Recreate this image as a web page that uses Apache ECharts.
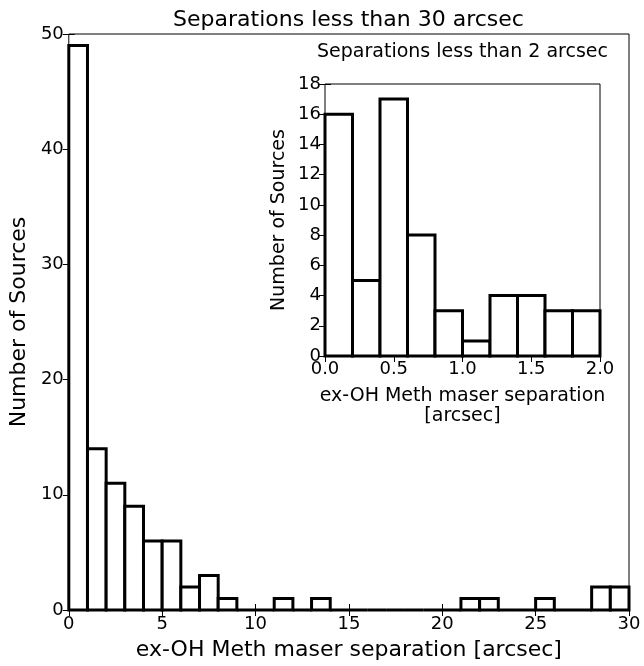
<!DOCTYPE html>
<html>
<head>
<meta charset="utf-8">
<title>ex-OH / methanol maser separations</title>
<script src="https://cdn.jsdelivr.net/npm/echarts@6/dist/echarts.min.js"></script>
<style>
  html, body { margin: 0; padding: 0; background: #fff; }
  #chart { width: 644px; height: 666px; }
</style>
</head>
<body>
<div id="chart"></div>
<script>
// Histogram of separations below 30 arcsec, 1 arcsec bins
const mainBinWidth = 1;
const mainCounts = [49, 14, 11, 9, 6, 6, 2, 3, 1, 0,
                    0, 1, 0, 1, 0, 0, 0, 0, 0, 0,
                    0, 1, 1, 0, 0, 1, 0, 0, 2, 2];
const mainXTicks = [0, 5, 10, 15, 20, 25, 30];
const mainYTicks = [0, 10, 20, 30, 40, 50];

// Histogram of separations below 2 arcsec, 0.2 arcsec bins
const insetBinWidth = 0.2;
const insetCounts = [16, 5, 17, 8, 3, 1, 4, 4, 3, 3];
const insetXTicks = ['0.0', '0.5', '1.0', '1.5', '2.0'];
const insetYTicks = [0, 2, 4, 6, 8, 10, 12, 14, 16, 18];

const FONT = 'DejaVu Sans';

function binRows(counts, width) {
  return counts.map((c, i) => [+(i * width).toFixed(3), +((i + 1) * width).toFixed(3), c]);
}

function renderBin(params, api) {
  const top = api.coord([api.value(0), api.value(2)]);
  const base = api.coord([api.value(1), 0]);
  return {
    type: 'rect',
    shape: { x: top[0], y: top[1], width: base[0] - top[0], height: base[1] - top[1] },
    style: { fill: '#ffffff', stroke: '#000000', lineWidth: 3 }
  };
}

function valueAxis(opts) {
  const ticks = opts.ticks.map(Number);
  return Object.assign({
    type: 'value',
    min: ticks[0],
    max: ticks[ticks.length - 1],
    interval: ticks[1] - ticks[0],
    splitLine: { show: false },
    axisLine: { show: false },
    axisTick: { show: true, inside: true, length: 6, lineStyle: { color: '#000', width: 1 } },
    axisLabel: {
      show: opts.labels !== false,
      color: '#000',
      fontFamily: FONT,
      fontSize: opts.fontSize,
      margin: opts.margin,
      formatter: opts.formatter
    }
  }, opts.extra || {});
}

const chart = echarts.init(document.getElementById('chart'), null, { renderer: 'canvas' });

chart.setOption({
  animation: false,
  backgroundColor: '#ffffff',
  grid: [
    { left: 68, top: 34, width: 561, height: 578, show: true, borderColor: '#000', borderWidth: 1, backgroundColor: '#fff', containLabel: false },
    { left: 325, top: 84, width: 275, height: 272, show: true, borderColor: '#000', borderWidth: 1, backgroundColor: '#fff', containLabel: false, z: 5 }
  ],
  xAxis: [
    valueAxis({ ticks: mainXTicks, fontSize: 18, margin: 5, extra: {
      gridIndex: 0, position: 'bottom',
      name: 'ex-OH Meth maser separation [arcsec]', nameLocation: 'middle', nameGap: 29,
      nameTextStyle: { color: '#000', fontFamily: FONT, fontSize: 22 }
    } }),
    valueAxis({ ticks: mainXTicks, labels: false, extra: { gridIndex: 0, position: 'top' } }),
    valueAxis({ ticks: insetXTicks, fontSize: 18, margin: 4,
      formatter: v => v.toFixed(1), extra: {
      gridIndex: 1, position: 'bottom', z: 6,
      name: 'ex-OH Meth maser separation\n[arcsec]', nameLocation: 'middle', nameGap: 30,
      nameTextStyle: { color: '#000', fontFamily: FONT, fontSize: 19, lineHeight: 20 }
    } }),
    valueAxis({ ticks: insetXTicks, labels: false, extra: { gridIndex: 1, position: 'top', z: 6 } })
  ],
  yAxis: [
    valueAxis({ ticks: mainYTicks, fontSize: 18, margin: 5, extra: {
      gridIndex: 0, position: 'left',
      name: 'Number of Sources', nameLocation: 'middle', nameGap: 36, nameRotate: 90,
      nameTextStyle: { color: '#000', fontFamily: FONT, fontSize: 22 }
    } }),
    valueAxis({ ticks: mainYTicks, labels: false, extra: { gridIndex: 0, position: 'right' } }),
    valueAxis({ ticks: insetYTicks, fontSize: 18, margin: 4, extra: {
      gridIndex: 1, position: 'left', z: 6,
      name: 'Number of Sources', nameLocation: 'middle', nameGap: 36, nameRotate: 90,
      nameTextStyle: { color: '#000', fontFamily: FONT, fontSize: 19 }
    } }),
    valueAxis({ ticks: insetYTicks, labels: false, extra: { gridIndex: 1, position: 'right', z: 6 } })
  ],
  series: [
    {
      type: 'custom', name: 'main', xAxisIndex: 0, yAxisIndex: 0,
      clip: false, renderItem: renderBin,
      encode: { x: [0, 1], y: 2 },
      data: binRows(mainCounts, mainBinWidth), z: 2
    },
    {
      type: 'custom', name: 'inset', xAxisIndex: 2, yAxisIndex: 2,
      clip: false, renderItem: renderBin,
      encode: { x: [0, 1], y: 2 },
      data: binRows(insetCounts, insetBinWidth), z: 7
    }
  ],
  graphic: [
    { type: 'text', x: 348.5, y: 20, z: 10,
      style: { text: 'Separations less than 30 arcsec', fill: '#000', font: '22px "DejaVu Sans"', textAlign: 'center', textVerticalAlign: 'middle' } },
    { type: 'text', x: 462.5, y: 52, z: 10,
      style: { text: 'Separations less than 2 arcsec', fill: '#000', font: '19px "DejaVu Sans"', textAlign: 'center', textVerticalAlign: 'middle' } }
  ]
});
</script>
</body>
</html>
